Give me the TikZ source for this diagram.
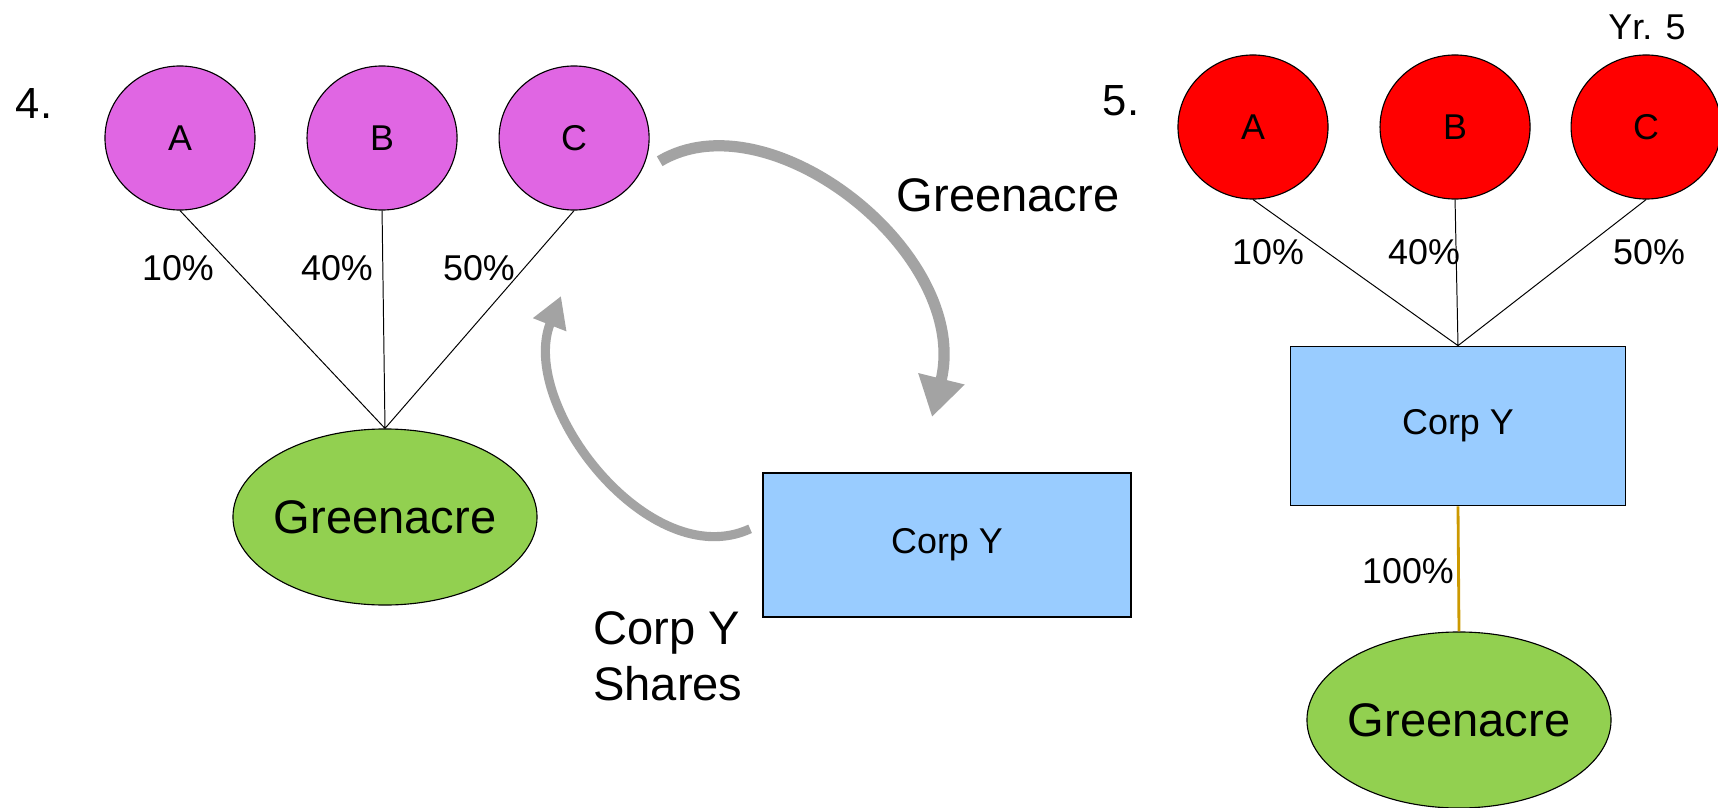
\documentclass[tikz,border=0pt]{standalone}
\usepackage{fontspec}
\setmainfont{Liberation Sans}
\usetikzlibrary{positioning,shapes.geometric,arrows.meta}
\definecolor{ownviolet}{RGB}{224,102,227}
\definecolor{ownred}{RGB}{255,0,0}
\definecolor{corpblue}{RGB}{153,204,255}
\definecolor{acregreen}{RGB}{146,208,80}
\definecolor{linkorange}{RGB}{204,153,0}
\definecolor{arrowgray}{RGB}{163,163,163}

\begin{document}
\begin{tikzpicture}[x=0.025cm,y=-0.025cm,on grid,
		owner/.style={ellipse,draw,line width=0.8pt,fill=#1,minimum width=3.75cm,minimum height=3.6cm,inner sep=0pt,font=\fontsize{25.5}{30}\selectfont},
		company/.style={rectangle,draw,line width=1.2pt,fill=corpblue,inner sep=0pt,font=\fontsize{25.5}{30}\selectfont},
		land/.style={ellipse,draw,line width=0.8pt,fill=acregreen,minimum width=7.6cm,minimum height=4.4cm,inner xsep=-3pt,inner ysep=0pt,font=\fontsize{33.5}{40}\selectfont},
		pct/.style={inner sep=0pt,font=\fontsize{25.5}{30}\selectfont},
		stagelabel/.style={inner sep=0pt,font=\fontsize{31}{36}\selectfont},
		biglabel/.style={inner sep=0pt,align=left,font=\fontsize{33.5}{40}\selectfont},
		share/.style={line width=0.7pt},
		bigarrow/.style={draw=arrowgray,line width=#1}]
	\useasboundingbox (0,0) rectangle (1718,808);

	% year 4
	\node[stagelabel] (s_4) at (34,104) {4.};
	\node[owner=ownviolet] (a_4) at (180,138) {A};
	\node[owner=ownviolet] (b_4) [right=5.05cm of a_4] {B};
	\node[owner=ownviolet] (c_4) [right=4.8cm of b_4] {C};
	\node[land] (g_4) at (385,517) {Greenacre};
	\node[company,minimum width=9.2cm,minimum height=3.6cm] (y_4) at (947,545) {Corp Y};
	\draw[share] (a_4.south) -- (g_4.north)
		(b_4.south) -- (g_4.north)
		(c_4.south) -- (g_4.north);
	\node[pct] (p_a4) at (178,268) {10\%};
	\node[pct] (p_b4) at (337,268) {40\%};
	\node[pct] (p_c4) at (479,268) {50\%};

	% exchange
	\coordinate[right=0.35cm of c_4.-18] (g_tail);
	\coordinate (g_tip) at (932,417);
	\coordinate[left=0.3cm of y_4.175] (s_tail);
	\coordinate (s_tip) at (561,296);
	\draw[bigarrow=8pt,-{Triangle[length=28pt,width=32pt]}] (g_tail) .. controls (770,95) and (972,255) .. (g_tip);
	\draw[bigarrow=6.5pt,-{Triangle[length=22pt,width=24pt]}] (s_tail) .. controls (650,575) and (518,405) .. (s_tip);
	\node[biglabel] (l_g) at (1008,195) {Greenacre};
	\node[biglabel,anchor=west] (l_s) at (593,656) {Corp Y\\Shares};

	% year 5
	\node[stagelabel] (s_5) at (1121,101) {5.};
	\node[pct] (yr) at (1647,27) {Yr. 5};
	\node[owner=ownred] (a_5) at (1253,127) {A};
	\node[owner=ownred] (b_5) [right=5.05cm of a_5] {B};
	\node[owner=ownred] (c_5) [right=4.775cm of b_5] {C};
	\node[company,minimum width=8.375cm,minimum height=3.975cm] (y_5) at (1458,426) {Corp Y};
	\node[land] (g_5) at (1459,720) {Greenacre};
	\draw[share] (a_5.south) -- (y_5.north)
		(b_5.south) -- (y_5.north)
		(c_5.south) -- (y_5.north);
	\draw[linkorange,line width=2pt] (y_5.south) -- (g_5.north);
	\node[pct] (p_a5) at (1268,252) {10\%};
	\node[pct] (p_b5) at (1424,252) {40\%};
	\node[pct] (p_c5) at (1649,252) {50\%};
	\node[pct] (p_g5) at (1408,571) {100\%};
\end{tikzpicture}
\end{document}
